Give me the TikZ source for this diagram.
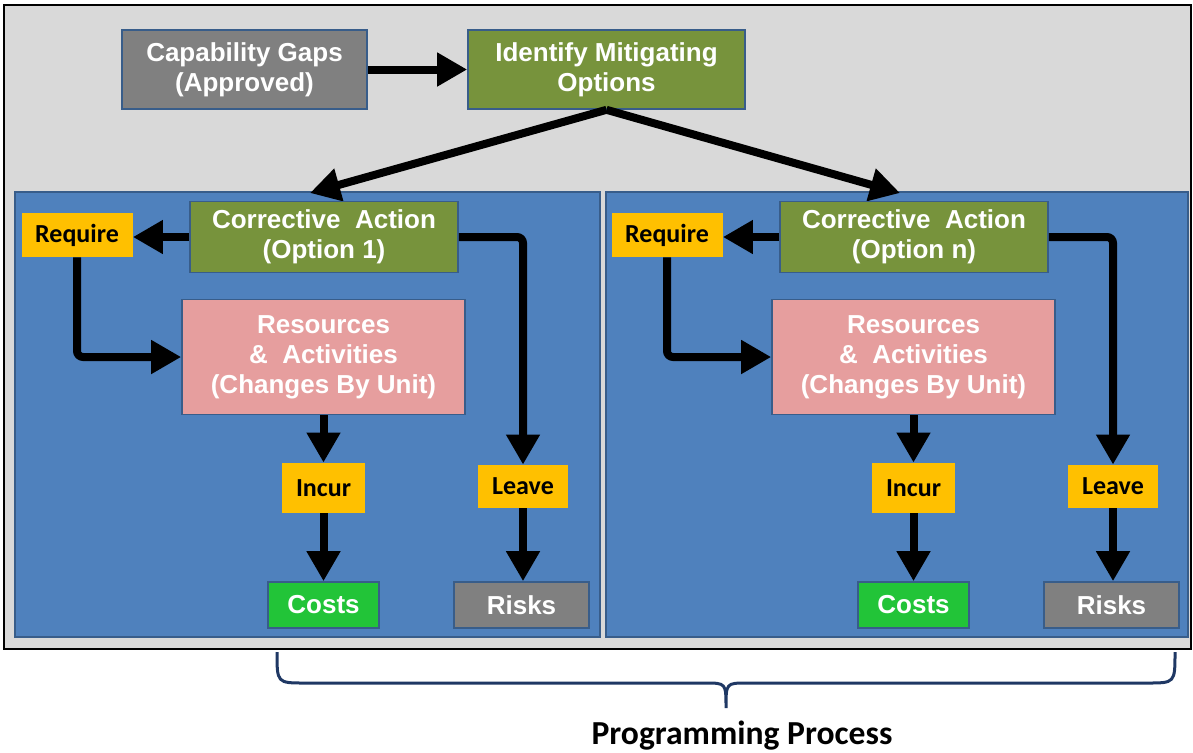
\documentclass[tikz,border=0pt]{standalone}
\usepackage{fontspec}
\setmainfont{Liberation Sans}
\newfontfamily\tagfont{Carlito}
\usetikzlibrary{arrows.meta, positioning}

\definecolor{bggray}{RGB}{217,217,217}
\definecolor{panelblue}{RGB}{79,129,189}
\definecolor{edgeblue}{RGB}{56,93,138}
\definecolor{optgreen}{RGB}{119,147,60}
\definecolor{boxgray}{RGB}{128,128,128}
\definecolor{respink}{RGB}{230,158,158}
\definecolor{tagyellow}{RGB}{255,192,0}
\definecolor{costgreen}{RGB}{34,196,56}
\definecolor{bracenavy}{RGB}{31,56,100}

\begin{document}
\begin{tikzpicture}[
            x=0.5pt, y=-0.5pt,
            box/.style={draw=edgeblue, line width=0.8pt, text=white, align=center, inner sep=0pt,
                        font=\bfseries\fontsize{13}{15}\selectfont},
            tag/.style={fill=tagyellow, inner sep=0pt, font=\tagfont\bfseries\fontsize{13}{14}\selectfont},
            panel/.style={fill=panelblue, draw=edgeblue, line width=0.6pt},
            arrow/.style={-{Triangle[length=15pt,width=16pt]}, line width=4pt},
            elbow/.style={arrow, rounded corners=3pt}
        ]
        \useasboundingbox (0,0) rectangle (1193,752);
        % --- frame and the two option panels ---
        \draw[fill=bggray, line width=1pt] (4,5) rectangle (1191,649);
        \draw[panel] (15,192) rectangle (600,637);
        \draw[panel] (606,192) rectangle (1188,637);

        % --- top row ---
        \node[box, fill=boxgray, minimum width=122.5pt, minimum height=39.5pt] (gaps) at (244.5,69.5) {Capability Gaps\\(Approved)};
        \node[box, fill=optgreen, minimum width=138.5pt, minimum height=39.5pt] (ident) at (606.5,69.5) {Identify Mitigating\\Options};
        \draw[arrow] (gaps.east) -- (ident.west);
        \coordinate (t1) at (310,193);
        \coordinate (tn) at (900,193);
        \draw[arrow] (ident.south) -- (t1);
        \draw[arrow] (ident.south) -- (tn);

        % --- (1) option 1 ---
        \node[box, fill=optgreen, minimum width=134pt, minimum height=35.5pt] (ca1) at (324,237) {Corrective\ \ Action\\(Option 1)};
        \node[tag, minimum width=55.5pt, minimum height=22pt] (req1) at (77,235) {Require};
        \node[box, fill=respink, minimum width=141.5pt, minimum height=57.5pt] (res1) at (323.5,357) {Resources\\\&\ \ Activities\\(Changes By Unit)};
        \node[tag, minimum width=41.5pt, minimum height=25pt] (incur1) at (323.5,488) {Incur};
        \node[tag, minimum width=45pt, minimum height=21.5pt] (leave1) at (523,486.5) {Leave};
        \node[box, fill=costgreen, minimum width=55.5pt, minimum height=23pt] (costs1) at (323.5,605) {Costs};
        \node[box, fill=boxgray, minimum width=67.5pt, minimum height=23pt] (risks1) at (521.5,605) {Risks};
        \draw[arrow] (ca1.west) -- (ca1.west -| req1.east);
        \draw[elbow] (req1.south) |- (res1.west);
        \draw[elbow] (ca1.east) -| (leave1.north);
        \draw[arrow] (res1.south) -- (incur1.north);
        \draw[arrow] (incur1.south) -- (costs1.north);
        \draw[arrow] (leave1.south) -- (leave1.south |- risks1.north);

        % --- (n) option n ---
        \node[box, fill=optgreen, minimum width=134pt, minimum height=35.5pt] (can) at (914,237) {Corrective\ \ Action\\(Option n)};
        \node[tag, minimum width=55.5pt, minimum height=22pt] (reqn) at (667,235) {Require};
        \node[box, fill=respink, minimum width=141.5pt, minimum height=57.5pt] (resn) at (913.5,357) {Resources\\\&\ \ Activities\\(Changes By Unit)};
        \node[tag, minimum width=41.5pt, minimum height=25pt] (incurn) at (913.5,488) {Incur};
        \node[tag, minimum width=45pt, minimum height=21.5pt] (leaven) at (1113,486.5) {Leave};
        \node[box, fill=costgreen, minimum width=55.5pt, minimum height=23pt] (costsn) at (913.5,605) {Costs};
        \node[box, fill=boxgray, minimum width=67.5pt, minimum height=23pt] (risksn) at (1111.5,605) {Risks};
        \draw[arrow] (can.west) -- (can.west -| reqn.east);
        \draw[elbow] (reqn.south) |- (resn.west);
        \draw[elbow] (can.east) -| (leaven.north);
        \draw[arrow] (resn.south) -- (incurn.north);
        \draw[arrow] (incurn.south) -- (costsn.north);
        \draw[arrow] (leaven.south) -- (leaven.south |- risksn.north);

        % --- brace ---
        \draw[bracenavy, line width=1.5pt] (277,652) .. controls (277,683) .. (305,683) -- (705,683)
            .. controls (726,683) .. (726,708) .. controls (726,683) .. (747,683) -- (1147,683)
            .. controls (1175,683) .. (1175,652);
        \node[font=\tagfont\bfseries\fontsize{16.8}{18}\selectfont] (prog) at (742,736) {Programming Process};
        \end{tikzpicture}
\end{document}
